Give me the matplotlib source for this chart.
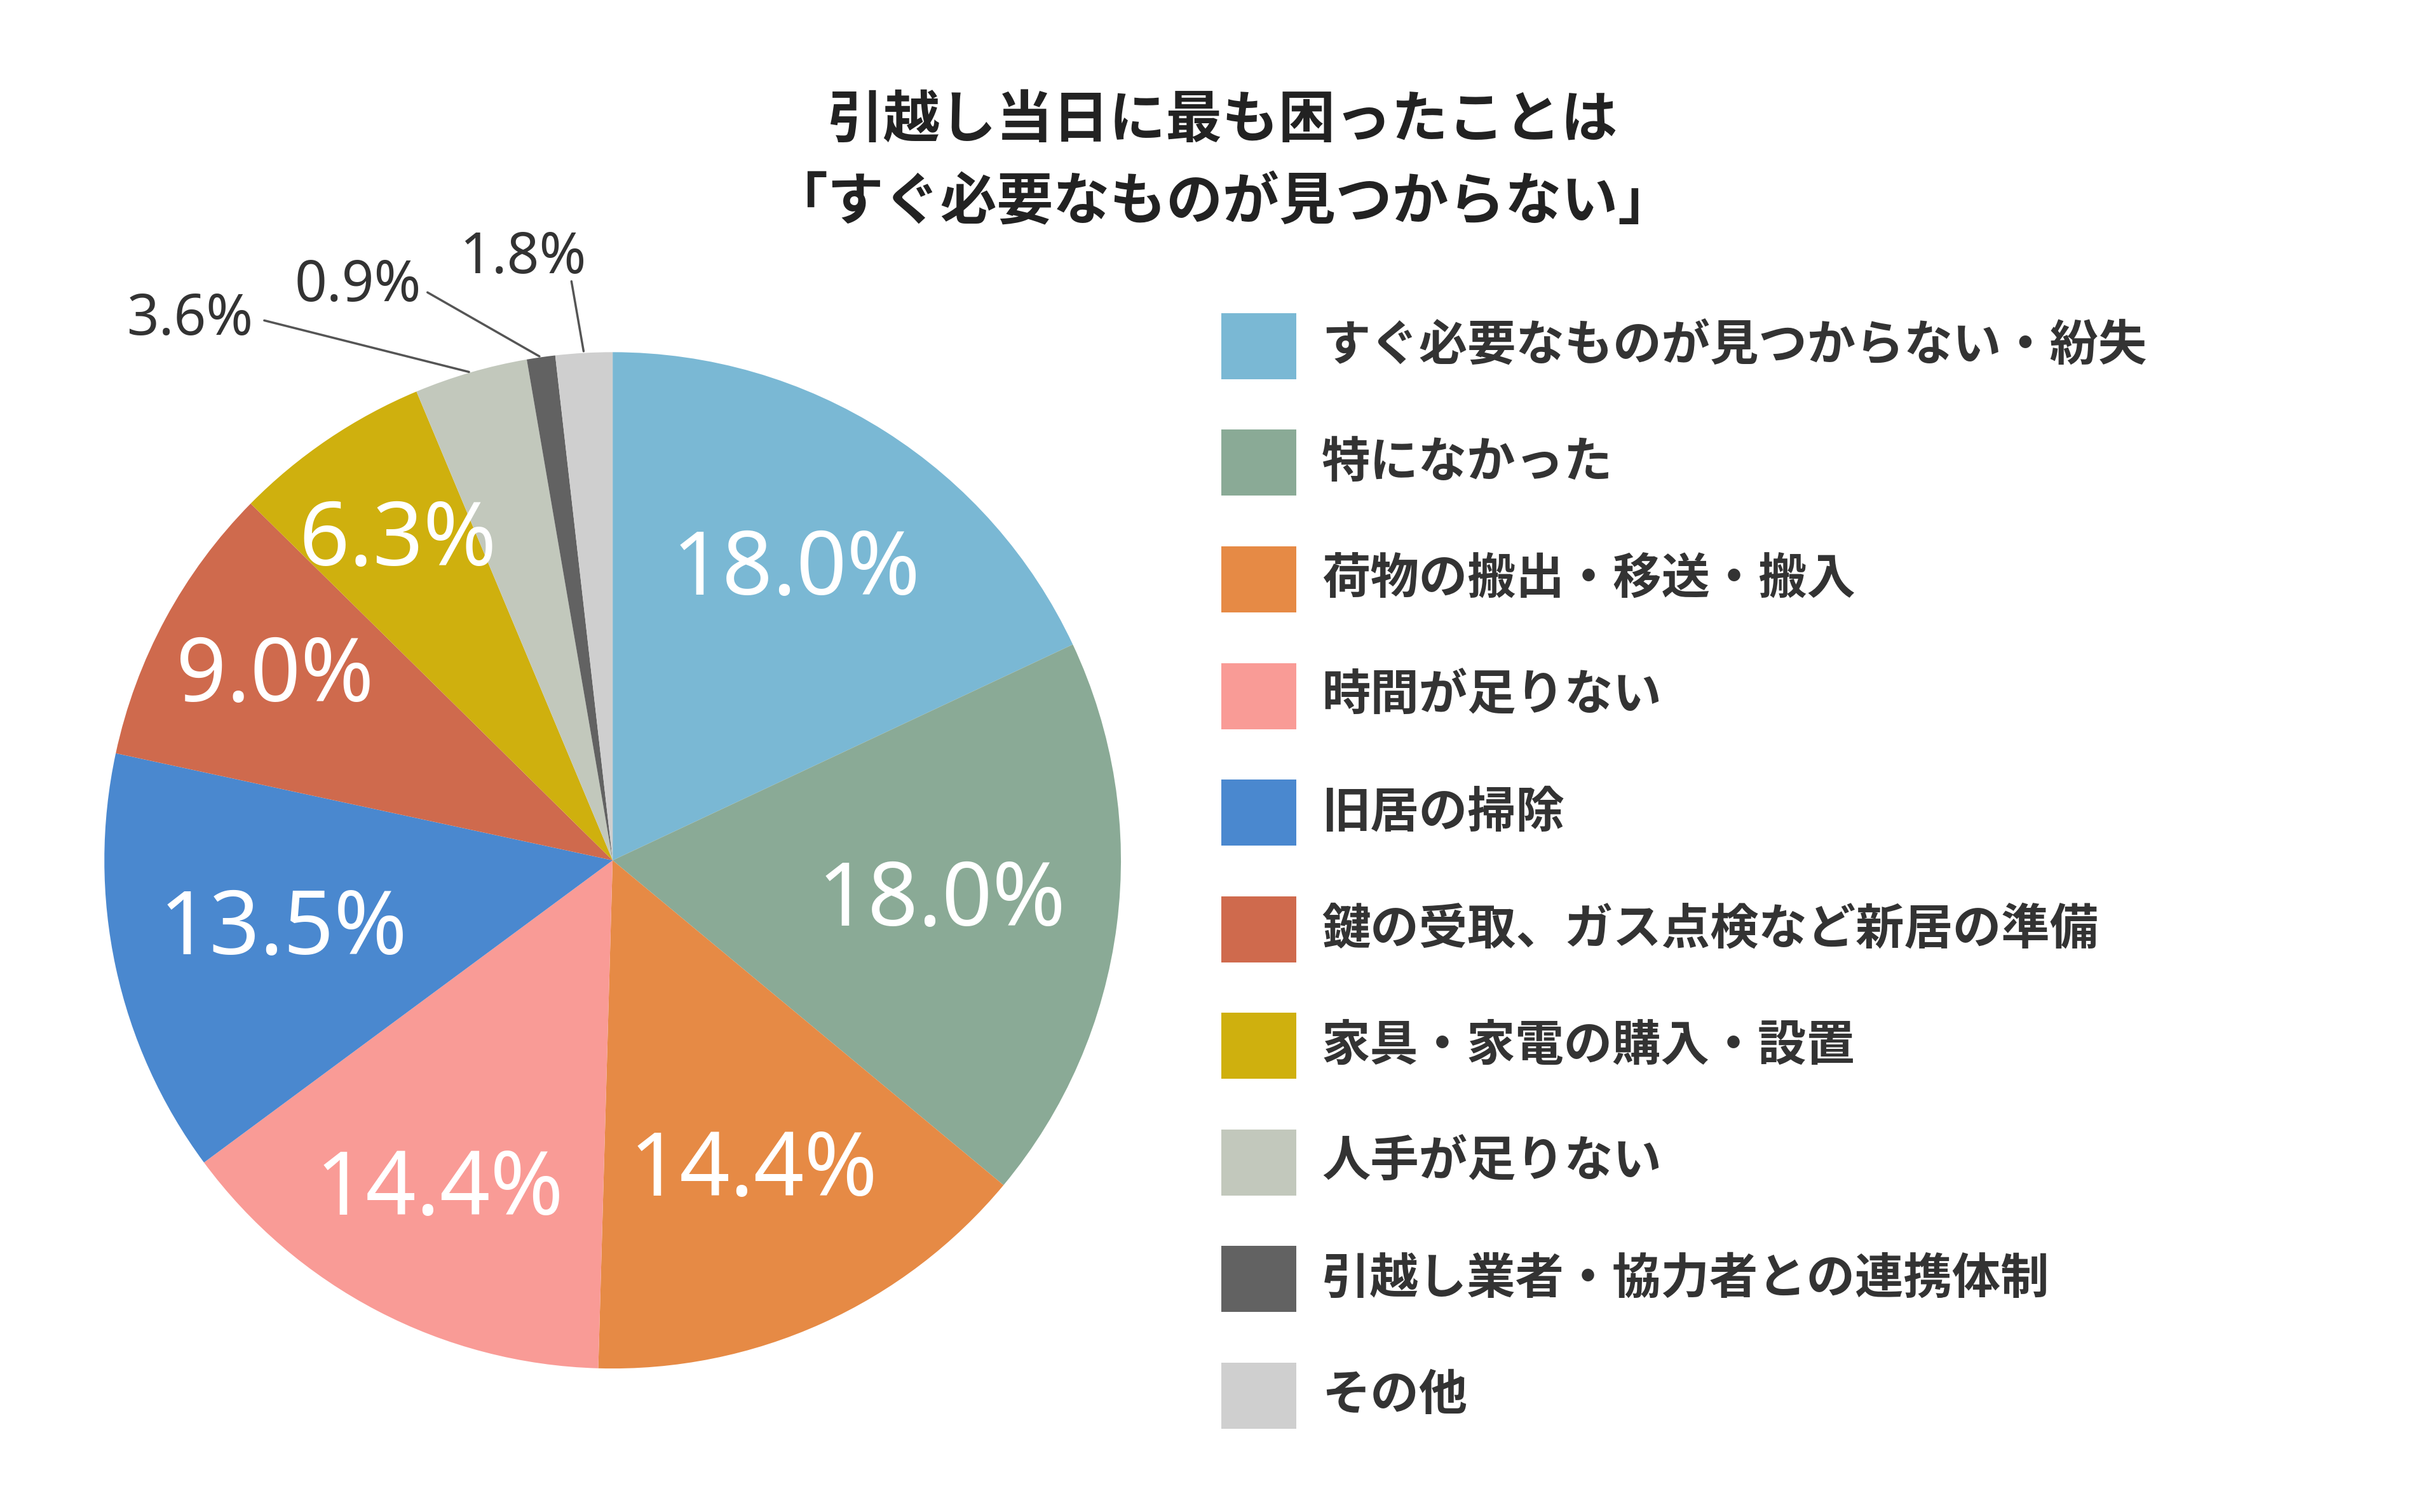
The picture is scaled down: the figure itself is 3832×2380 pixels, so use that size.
import numpy as np
import matplotlib
matplotlib.use("Agg")
import matplotlib.pyplot as plt
from matplotlib.patches import Rectangle

plt.rcParams['font.family'] = ['Noto Sans CJK JP', 'DejaVu Sans']

title = "引越し当日に最も困ったことは\n「すぐ必要なものが見つからない」"
categories = ["すぐ必要なものが見つからない・紛失", "特になかった", "荷物の搬出・移送・搬入",
              "時間が足りない", "旧居の掃除", "鍵の受取、ガス点検など新居の準備",
              "家具・家電の購入・設置", "人手が足りない", "引越し業者・協力者との連携体制", "その他"]
values = [18.0, 18.0, 14.4, 14.4, 13.5, 9.0, 6.3, 3.6, 0.9, 1.8]
colors = ["#7AB8D4", "#8AAA96", "#E68A45", "#F99B96", "#4A88CF", "#CF6A4D",
          "#CFB00E", "#C2C8BC", "#626262", "#CFCFCF"]

fig = plt.figure(figsize=(38.32, 23.8), dpi=100)
fig.patch.set_facecolor("white")

ax = fig.add_axes([0.2516 - 0.213, 0.431 - 0.343, 0.426, 0.686])
wedges, _ = ax.pie(values, colors=colors, startangle=90, counterclock=False, radius=0.98,
                   wedgeprops=dict(linewidth=0))
ax.set_xlim(-1, 1)
ax.set_ylim(-1, 1)
ax.set_aspect("equal")
ax.axis("off")

# inside labels
in_r = [0.66, 0.64, 0.66, 0.72, 0.65, 0.74, 0.74]
for w, v, r in zip(wedges[:7], values[:7], in_r):
    ang = np.deg2rad((w.theta1 + w.theta2) / 2)
    ax.text(r * np.cos(ang), r * np.sin(ang), f"{v:.1f}%", color="white",
            fontsize=100, ha="center", va="center", family=["Noto Sans", "DejaVu Sans"],
            fontweight="semibold")

# outside labels with leader lines
out_txt = [(-0.815, 1.042), (-0.491, 1.106), (-0.173, 1.161)]
out_start = [(-0.675, 1.042), (-0.36, 1.097), (-0.08, 1.12)]
for w, v, t, s in zip(wedges[7:], values[7:], out_txt, out_start):
    ang = np.deg2rad((w.theta1 + w.theta2) / 2)
    ax.annotate("", xy=(0.98 * np.cos(ang), 0.98 * np.sin(ang)), xytext=s,
                arrowprops=dict(arrowstyle="-", color="#555555", lw=2.5),
                annotation_clip=False)
    ax.text(t[0], t[1], f"{v:.1f}%", color="#333333", fontsize=64, ha="center",
            va="center", family=["Noto Sans", "DejaVu Sans"], clip_on=False)

fig.text(0.502, 0.893, title, ha="center", va="center", fontsize=64,
         fontweight="bold", linespacing=1.55, color="#222222")

# legend
W, H = 3832, 2380
for i, (c, lab) in enumerate(zip(colors, categories)):
    y = 545 + i * 183.5
    fig.patches.append(Rectangle((1922 / W, 1 - (y + 52) / H), 118 / W, 104 / H,
                                 transform=fig.transFigure, facecolor=c, edgecolor="none"))
    fig.text(2080 / W, 1 - y / H, lab, ha="left", va="center", fontsize=55,
             fontweight="bold", color="#333333")

fig.savefig("out.png", dpi=100)
